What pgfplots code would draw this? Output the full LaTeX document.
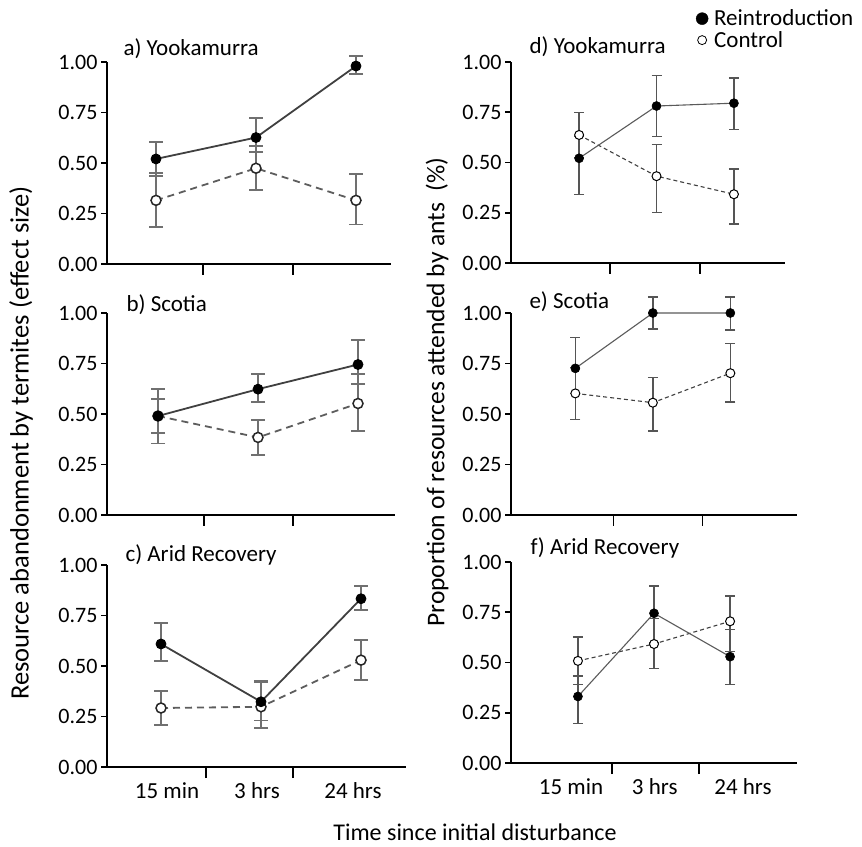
\documentclass[border=0pt]{standalone}
\usepackage{fontspec}
\setmainfont{Carlito}
\usepackage{pgfplots}
\pgfplotsset{compat=1.18}

\definecolor{lnA}{HTML}{404040}
\definecolor{ebA}{HTML}{707070}
\definecolor{lnB}{HTML}{5A5A5A}
\definecolor{ebB}{HTML}{555555}

\newcommand{\tfont}{\fontsize{23}{26}\selectfont}
\newcommand{\kfont}{\fontsize{22}{24}\selectfont}

\pgfplotsset{
  panel/.style={
    scale only axis, height=202pt,
    axis x line*=bottom, axis y line*=left,
    ymin=0, ymax=1, ytick={0,0.25,0.5,0.75,1},
    yticklabel={\pgfmathprintnumber[fixed,fixed zerofill,precision=2,assume math mode=true]{\tick}},
    clip=false, tick align=outside, major tick length=6pt,
    axis line style={line width=1.6pt},
    every tick/.style={line width=1.6pt, black},
    y tick label style={font=\kfont},
    x tick label style={font=\tfont, yshift=-6pt},
    xtick style={draw=none},
    extra x tick labels={},
    extra x tick style={major tick length=11pt, xtick style={draw=black}},
  },
  reA/.style={color=lnA, line width=1.8pt, mark=*, mark size=5pt,
    mark options={solid, fill=black, draw=black, line width=0.8pt},
    error bars/.cd, y dir=both, y explicit,
    error bar style={line width=1.8pt, ebA, solid},
    error mark options={rotate=90, line width=1.8pt, ebA, mark size=7pt}},
  coA/.style={color=lnA!85, line width=1.8pt, dash pattern=on 7pt off 5pt,
    mark=*, mark size=5pt,
    mark options={solid, fill=white, draw=black!85, line width=1.5pt},
    error bars/.cd, y dir=both, y explicit,
    error bar style={line width=1.8pt, ebA, solid},
    error mark options={rotate=90, line width=1.8pt, ebA, mark size=7pt}},
  reB/.style={color=lnB, line width=1.1pt, mark=*, mark size=4.5pt,
    mark options={solid, fill=black, draw=black, line width=0.6pt},
    error bars/.cd, y dir=both, y explicit,
    error bar style={line width=1.4pt, ebB, solid},
    error mark options={rotate=90, line width=1.4pt, ebB, mark size=5pt}},
  coB/.style={color=black!75, line width=1.1pt, dash pattern=on 4pt off 3pt,
    mark=*, mark size=4.5pt,
    mark options={solid, fill=white, draw=black, line width=1pt},
    error bars/.cd, y dir=both, y explicit,
    error bar style={line width=1.4pt, ebB, solid},
    error mark options={rotate=90, line width=1.4pt, ebB, mark size=5pt}},
}

\begin{document}
\begin{tikzpicture}
\path[use as bounding box] (0,0) rectangle (862pt,846pt);

% a) Yookamurra
\begin{axis}[panel, at={(107pt,582pt)}, anchor=south west, width=284pt,
  xmin=0.51, xmax=3.35, xtick=\empty, extra x ticks={1.47,2.37}]
\addplot[coA] coordinates {(1,0.315) += (0,0.137) -= (0,0.131)
  (2,0.474) += (0,0.111) -= (0,0.106) (3,0.315) += (0,0.131) -= (0,0.119)};
\addplot[reA] coordinates {(1,0.52) += (0,0.085) -= (0,0.085)
  (2,0.626) += (0,0.095) -= (0,0.072) (3,0.98) += (0,0.05) -= (0,0.04)};
\end{axis}

% b) Scotia
\begin{axis}[panel, at={(107pt,331pt)}, anchor=south west, width=288pt,
  xmin=0.49, xmax=3.37, xtick=\empty, extra x ticks={1.46,2.35}]
\addplot[coA] coordinates {(1,0.49) += (0,0.134) -= (0,0.136)
  (2,0.384) += (0,0.087) -= (0,0.087) (3,0.552) += (0,0.145) -= (0,0.137)};
\addplot[reA] coordinates {(1,0.49) += (0,0.083) -= (0,0.084)
  (2,0.623) += (0,0.074) -= (0,0.063) (3,0.745) += (0,0.122) -= (0,0.095)};
\end{axis}

% c) Arid Recovery
\begin{axis}[panel, at={(107pt,79pt)}, anchor=south west, width=299pt,
  xmin=0.46, xmax=3.45, xtick={1.06,1.96,2.92},
  xticklabels={15 min,3 hrs,24 hrs}, extra x ticks={1.45,2.32}]
\addplot[coA] coordinates {(1,0.292) += (0,0.086) -= (0,0.085)
  (2,0.298) += (0,0.126) -= (0,0.103) (3,0.529) += (0,0.101) -= (0,0.1)};
\addplot[reA] coordinates {(1,0.609) += (0,0.102) -= (0,0.084)
  (2,0.323) += (0,0.097) -= (0,0.093) (3,0.833) += (0,0.065) -= (0,0.057)};
\end{axis}

% d) Yookamurra
\begin{axis}[panel, at={(511pt,583pt)}, anchor=south west, width=274pt,
  height=201pt, xmin=0.12, xmax=3.66, xtick=\empty, extra x ticks={1.40,2.56},
  legend style={at={(0.664,1.275)}, anchor=north west, draw=none, fill=none,
    font=\tfont, row sep=2pt, nodes={inner sep=1pt},
    /tikz/every odd column/.append style={column sep=5pt}},
  legend cell align=left]
\addlegendimage{only marks, mark=*, mark size=6pt, mark options={fill=black, draw=black}}
\addlegendentry{Reintroduction}
\addlegendimage{only marks, mark=*, mark size=4.5pt, mark options={fill=white, draw=black, line width=0.8pt}}
\addlegendentry{Control}
\addplot[forget plot, coB] coordinates {(1,0.637) += (0,0.113) -= (0,0.113)
  (2,0.432) += (0,0.158) -= (0,0.18) (3,0.342) += (0,0.126) -= (0,0.148)};
\addplot[forget plot, reB] coordinates {(1,0.521) += (0,0.107) -= (0,0.181)
  (2,0.781) += (0,0.151) -= (0,0.153) (3,0.795) += (0,0.126) -= (0,0.13)};
\end{axis}

% e) Scotia
\begin{axis}[panel, at={(511pt,331pt)}, anchor=south west, width=286pt,
  xmin=0.17, xmax=3.86, xtick=\empty, extra x ticks={1.49,2.64}]
\addplot[coB] coordinates {(1,0.602) += (0,0.128) -= (0,0.129)
  (2,0.556) += (0,0.126) -= (0,0.141) (3,0.702) += (0,0.146) -= (0,0.142)};
\addplot[reB] coordinates {(1,0.726) += (0,0.153) -= (0,0.126)
  (2,1.0) += (0,0.08) -= (0,0.08) (3,1.0) += (0,0.08) -= (0,0.085)};
\end{axis}

% f) Arid Recovery
\begin{axis}[panel, at={(511pt,83pt)}, anchor=south west, width=286pt,
  height=201pt, xmin=0.12, xmax=3.88, xtick={0.91,2.01,3.17},
  xticklabels={15 min,3 hrs,24 hrs}, extra x ticks={1.45,2.59}]
\addplot[coB] coordinates {(1,0.508) += (0,0.119) -= (0,0.118)
  (2,0.592) += (0,0.128) -= (0,0.122) (3,0.705) += (0,0.125) -= (0,0.149)};
\addplot[reB] coordinates {(1,0.331) += (0,0.101) -= (0,0.133)
  (2,0.745) += (0,0.135) -= (0,0.148) (3,0.529) += (0,0.134) -= (0,0.139)};
\end{axis}

\node[anchor=base west, font=\tfont] at (120pt,790pt) {a) Yookamurra};
\node[anchor=base west, font=\tfont] at (123pt,534pt) {b) Scotia};
\node[anchor=base west, font=\tfont] at (122pt,284pt) {c) Arid Recovery};
\node[anchor=base west, font=\tfont] at (526pt,792pt) {d) Yookamurra};
\node[anchor=base west, font=\tfont] at (526pt,537pt) {e) Scotia};
\node[anchor=base west, font=\tfont] at (527pt,291pt) {f) Arid Recovery};

\node[rotate=90, font=\fontsize{26.5}{30}\selectfont] at (21pt,403pt) {Resource abandonment by termites (effect size)};
\node[rotate=90, font=\fontsize{25.5}{30}\selectfont] at (437pt,454pt) {Proportion of resources attended by ants\ \ (\%)};
\node[font=\fontsize{24}{28}\selectfont] at (475pt,14pt) {Time since initial disturbance};
\end{tikzpicture}
\end{document}
